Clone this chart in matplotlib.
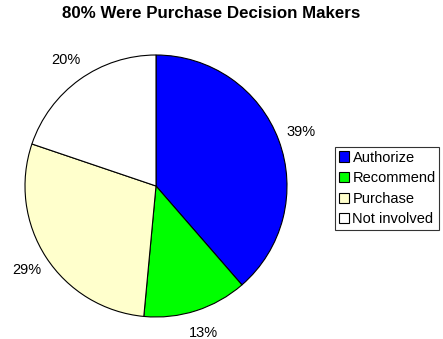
import matplotlib.pyplot as plt

plt.rcParams['font.family'] = ['Liberation Sans', 'DejaVu Sans']

categories = ['Authorize', 'Recommend', 'Purchase', 'Not involved']
shares = [39, 13, 29, 20]
slice_colors = ['#0000FF', '#00FF00', '#FFFFCC', '#FFFFFF']

W, H = 443, 339
fig = plt.figure(figsize=(W / 100, H / 100), dpi=100)

# pie centre about (156, 186) px, radius about 131 px
cx, cy, r = 156, 186, 131
ax = fig.add_axes([(cx - r) / W, (H - cy - r) / H, 2 * r / W, 2 * r / H])

wedges, texts = ax.pie(shares, colors=slice_colors, startangle=90, counterclock=False,
                       labels=[f'{v}%' for v in shares], labeldistance=1.18,
                       wedgeprops=dict(edgecolor='black', linewidth=0.8),
                       textprops=dict(fontsize=10.5))
for t in texts:
    t.set_horizontalalignment('center')
    t.set_verticalalignment('center')
ax.set_xlim(-1, 1)
ax.set_ylim(-1, 1)
ax.set_aspect('equal')

fig.suptitle('80% Were Purchase Decision Makers', x=211 / W, y=1 - 14 / H,
             fontsize=12.2, fontweight='bold', va='center')

leg = fig.legend(wedges, categories, loc='upper left', bbox_to_anchor=(335 / W, 1 - 147 / H),
                 fontsize=10.5, frameon=True, fancybox=False, handlelength=0.7, handleheight=0.7,
                 handletextpad=0.25, borderpad=0.25, labelspacing=0.45, borderaxespad=0)
leg.get_frame().set_edgecolor('black')
leg.get_frame().set_linewidth(0.8)

fig.savefig('out.png', dpi=100)
